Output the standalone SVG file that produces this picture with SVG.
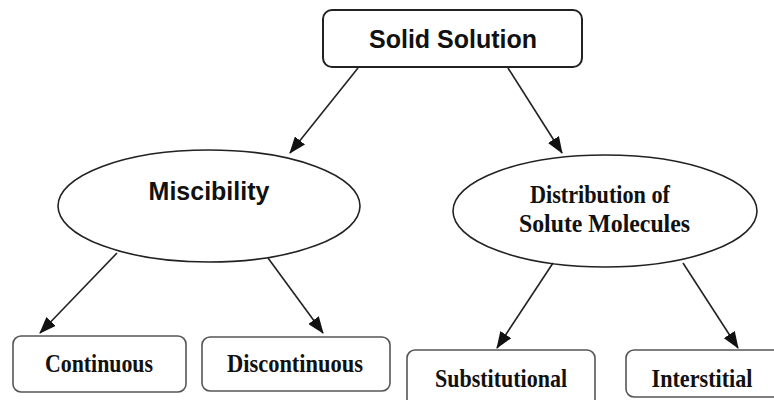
<svg xmlns="http://www.w3.org/2000/svg" width="774" height="400" viewBox="0 0 774 400">
<style>
.box{fill:#fff;stroke:#222;stroke-width:2}
.sbox{fill:#fff;stroke:#555;stroke-width:1.6}
.ell{fill:#fff;stroke:#222;stroke-width:1.6}
.sans{font-family:"Liberation Sans",Arial,sans-serif;font-weight:bold;font-size:25px;fill:#111;text-anchor:middle}
.serif{font-family:"Liberation Serif","Times New Roman",serif;font-weight:bold;font-size:21px;fill:#111;text-anchor:middle}
.conn line{stroke:#222;stroke-width:1.6}
</style>
<defs>
<marker id="ah" markerWidth="17" markerHeight="13" refX="16" refY="6.5" orient="auto" markerUnits="userSpaceOnUse">
<path d="M0,0 L17,6.5 L0,13 Z" fill="#111"/>
</marker>
</defs>
<rect width="774" height="400" fill="#fff"/>
<g id="n-solid">
<rect class="box" x="323" y="10" width="259" height="57" rx="9"/>
<text class="sans" x="453" y="48">Solid Solution</text>
</g>
<g id="n-miscibility">
<ellipse class="ell" cx="209" cy="206" rx="151" ry="56"/>
<text class="sans" x="209" y="200">Miscibility</text>
</g>
<g id="n-distribution">
<ellipse class="ell" cx="605" cy="211" rx="152" ry="56"/>
<text class="serif" transform="translate(600,203) scale(1,1.15)" textLength="140" lengthAdjust="spacingAndGlyphs">Distribution of</text>
<text class="serif" transform="translate(604.5,232) scale(1,1.15)" textLength="171" lengthAdjust="spacingAndGlyphs">Solute Molecules</text>
</g>
<g id="n-continuous">
<rect class="sbox" x="13" y="336" width="173" height="56" rx="8"/>
<text class="serif" transform="translate(99,372) scale(1,1.15)" textLength="108" lengthAdjust="spacingAndGlyphs">Continuous</text>
</g>
<g id="n-discontinuous">
<rect class="sbox" x="202" y="337" width="188" height="54" rx="8"/>
<text class="serif" transform="translate(295,372) scale(1,1.15)" textLength="136" lengthAdjust="spacingAndGlyphs">Discontinuous</text>
</g>
<g id="n-substitutional">
<rect class="sbox" x="407" y="350" width="188" height="60" rx="8"/>
<text class="serif" transform="translate(501,387) scale(1,1.15)" textLength="132" lengthAdjust="spacingAndGlyphs">Substitutional</text>
</g>
<g id="n-interstitial">
<rect class="sbox" x="626" y="350" width="160" height="47" rx="8"/>
<text class="serif" transform="translate(702,387) scale(1,1.15)" textLength="101" lengthAdjust="spacingAndGlyphs">Interstitial</text>
</g>
<g id="connectors" class="conn">
<line x1="358" y1="68" x2="290" y2="153" marker-end="url(#ah)"/>
<line x1="508" y1="68" x2="562" y2="153" marker-end="url(#ah)"/>
<line x1="117" y1="253" x2="40" y2="333" marker-end="url(#ah)"/>
<line x1="268" y1="258" x2="323" y2="333" marker-end="url(#ah)"/>
<line x1="553" y1="263" x2="497" y2="348" marker-end="url(#ah)"/>
<line x1="683" y1="263" x2="738" y2="348" marker-end="url(#ah)"/>
</g>
</svg>
